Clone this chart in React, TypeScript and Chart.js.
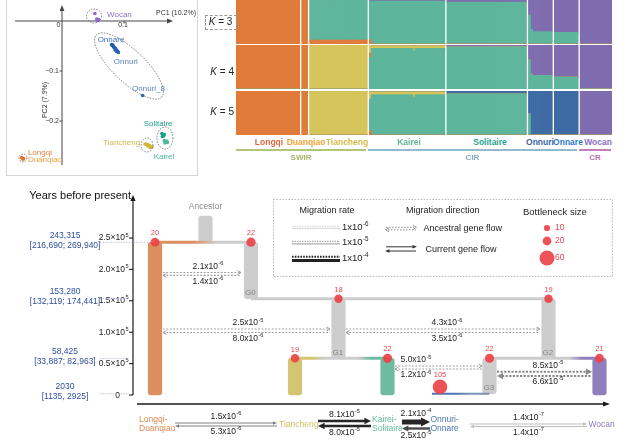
import React, { useEffect, useRef } from "react";
import { Chart, registerables } from "chart.js";

Chart.register(...registerables);

const FONT = "Arial, 'Liberation Sans', Helvetica, sans-serif";
Chart.defaults.font.family = FONT;

// ======================= A. PCA =======================
const pcaWocan = [{ x: 0.053, y: 0.015 }, { x: 0.056, y: 0.004 }, { x: 0.058, y: 0.002 }, { x: 0.057, y: 0.001 }, { x: 0.059, y: 0.003 }];
const pcaOnnare = [{ x: 0.080, y: -0.047 }, { x: 0.081, y: -0.049 }, { x: 0.082, y: -0.048 }, { x: 0.083, y: -0.051 }];
const pcaOnnuri = [{ x: 0.084, y: -0.053 }, { x: 0.085, y: -0.055 }, { x: 0.086, y: -0.054 }, { x: 0.087, y: -0.057 }, { x: 0.088, y: -0.058 }, { x: 0.089, y: -0.060 }, { x: 0.090, y: -0.061 }, { x: 0.091, y: -0.063 }, { x: 0.088, y: -0.061 }, { x: 0.086, y: -0.058 }];
const pcaOnnuri8 = [{ x: 0.130, y: -0.149 }];
const pcaSolitaire = [{ x: 0.161, y: -0.225 }, { x: 0.163, y: -0.228 }, { x: 0.162, y: -0.231 }, { x: 0.165, y: -0.227 }, { x: 0.164, y: -0.230 }];
const pcaKairei = [{ x: 0.165, y: -0.239 }, { x: 0.167, y: -0.242 }, { x: 0.169, y: -0.240 }, { x: 0.170, y: -0.243 }, { x: 0.166, y: -0.244 }];
const pcaTiancheng = [{ x: 0.134, y: -0.246 }, { x: 0.137, y: -0.248 }, { x: 0.139, y: -0.250 }, { x: 0.141, y: -0.249 }, { x: 0.143, y: -0.251 }, { x: 0.145, y: -0.252 }, { x: 0.138, y: -0.247 }, { x: 0.142, y: -0.253 }];
const pcaLongqi = [{ x: -0.065, y: -0.273 }, { x: -0.062, y: -0.275 }];
const pcaDuanqiao = [{ x: -0.063, y: -0.277 }];

const pcaGroupPoints = [pcaWocan, pcaOnnare, pcaOnnuri, pcaOnnuri8, pcaSolitaire, pcaKairei, pcaTiancheng, pcaLongqi, pcaDuanqiao];
const pcaGroupColors = ["#8d68c9", "#1f5aa6", "#2a64b0", "#2a64b0", "#16a08b", "#4fb5a0", "#d3b43a", "#e26f2c", "#f09a35"];

const pcaXTicks = [0, 0.1];
const pcaYTicks = [-0.1, -0.2];

// label text / anchor (data coords) for each PCA group label
const pcaLabelText = ["Wocan", "Onnare", "Onnuri", "Onnuri_8", "Solitaire", "Tiancheng", "Kairei", "Longqi", "Duanqiao"];
const pcaLabelX = [0.0726, 0.079, 0.103, 0.113, 0.155, 0.126, 0.148, -0.055, -0.055];
const pcaLabelY = [0.012, -0.038, -0.082, -0.136, -0.206, -0.244, -0.272, -0.264, -0.277];
const pcaLabelAlign = ["left", "center", "center", "left", "center", "right", "left", "left", "left"];
const pcaLabelColor = ["#8b6fc8", "#3c6fb8", "#5a7fc0", "#5a7fc0", "#1e9f8c", "#cdb84a", "#4fb49e", "#e0823e", "#f0a040"];

// cluster outlines: centre (data), radii px, rotation
const pcaRingX = [0.0516, 0.108, 0.166, 0.137, -0.063];
const pcaRingY = [0.010, -0.090, -0.234, -0.248, -0.274];
const pcaRingRx = [7.5, 45, 8, 6, 4];
const pcaRingRy = [7, 16, 11, 7, 4];
const pcaRingRot = [0, 0.76, 0, 0, 0];

function tri(ctx: any, x: number, y: number, dir: string, len: number, half: number) {
  ctx.beginPath();
  if (dir === "right") { ctx.moveTo(x, y); ctx.lineTo(x - len, y - half); ctx.lineTo(x - len, y + half); }
  else if (dir === "left") { ctx.moveTo(x, y); ctx.lineTo(x + len, y - half); ctx.lineTo(x + len, y + half); }
  else { ctx.moveTo(x, y); ctx.lineTo(x - half, y + len); ctx.lineTo(x + half, y + len); }
  ctx.closePath();
  ctx.fill();
}
function chevron(ctx: any, x: number, y: number, dir: string, len: number, half: number) {
  const d = dir === "right" ? 1 : -1;
  ctx.beginPath();
  ctx.moveTo(x - d * len, y - half);
  ctx.lineTo(x, y);
  ctx.lineTo(x - d * len, y + half);
  ctx.stroke();
}
function txt(ctx: any, s: string, x: number, y: number, size: number, color: string, align = "center", weight = "normal") {
  ctx.font = `${weight} ${size}px ${FONT}`;
  ctx.fillStyle = color;
  ctx.textAlign = align;
  ctx.textBaseline = "middle";
  ctx.fillText(s, x, y);
}
function drawSci(ctx: any, mant: string, exp: string, x: number, y: number, size: number, align: string, color: string) {
  ctx.font = `${size}px ${FONT}`;
  const w1 = ctx.measureText(mant).width;
  const es = size * 0.66;
  ctx.font = `${es}px ${FONT}`;
  const w2 = ctx.measureText(exp).width;
  const total = w1 + w2 + 0.4;
  const left = align === "center" ? x - total / 2 : align === "right" ? x - total : x;
  ctx.fillStyle = color;
  ctx.textAlign = "left";
  ctx.textBaseline = "middle";
  ctx.font = `${size}px ${FONT}`;
  ctx.fillText(mant, left, y);
  ctx.font = `${es}px ${FONT}`;
  ctx.fillText(exp, left + w1 + 0.4, y - size * 0.36);
}
function rateParts(r: number): [string, string] {
  const [m, e] = r.toExponential(1).split("e");
  return [m + "x10", e.replace("+", "")];
}

const pcaDecor = {
  id: "pcaDecor",
  beforeDatasetsDraw(chart: any) {
    const { ctx, chartArea: a } = chart;
    const xs = chart.scales.x, ys = chart.scales.y;
    const ox = xs.getPixelForValue(0), oy = ys.getPixelForValue(0);
    ctx.save();
    ctx.strokeStyle = "#444"; ctx.fillStyle = "#444"; ctx.lineWidth = 1;
    ctx.beginPath(); ctx.moveTo(a.left, oy); ctx.lineTo(a.right - 4, oy); ctx.stroke();
    tri(ctx, a.right, oy, "right", 6, 2.4);
    ctx.beginPath(); ctx.moveTo(ox, a.bottom); ctx.lineTo(ox, a.top + 4); ctx.stroke();
    ctx.fillStyle = "#444";
    tri(ctx, ox, a.top, "up", 6, 2.4);
    pcaXTicks.forEach((v) => {
      const px = xs.getPixelForValue(v);
      if (v !== 0) { ctx.beginPath(); ctx.moveTo(px, oy); ctx.lineTo(px, oy + 2.5); ctx.stroke(); }
      txt(ctx, String(v), v === 0 ? px - 3.5 : px - 1, oy + 4.5, 7, "#333");
    });
    pcaYTicks.forEach((v) => {
      const py = ys.getPixelForValue(v);
      ctx.beginPath(); ctx.moveTo(ox - 2.5, py); ctx.lineTo(ox, py); ctx.stroke();
      txt(ctx, "\u2212" + String(Math.abs(v)), ox - 3, py, 7, "#333", "right");
    });
    txt(ctx, "PC1 (10.2%)", 176, 13, 7, "#333");
    ctx.save();
    ctx.translate(45, 100);
    ctx.rotate(-Math.PI / 2);
    txt(ctx, "PC2 (7.9%)", 0, 0, 7, "#333");
    ctx.restore();
    ctx.restore();
  },
  afterDatasetsDraw(chart: any) {
    const { ctx } = chart;
    const xs = chart.scales.x, ys = chart.scales.y;
    ctx.save();
    ctx.strokeStyle = "#6a6a6a"; ctx.lineWidth = 0.9; ctx.setLineDash([1.4, 1.4]);
    pcaRingX.forEach((cx, i) => {
      ctx.beginPath();
      ctx.ellipse(xs.getPixelForValue(cx), ys.getPixelForValue(pcaRingY[i]), pcaRingRx[i], pcaRingRy[i], pcaRingRot[i], 0, Math.PI * 2);
      ctx.stroke();
    });
    ctx.setLineDash([]);
    pcaLabelText.forEach((s, i) => {
      txt(ctx, s, xs.getPixelForValue(pcaLabelX[i]), ys.getPixelForValue(pcaLabelY[i]), 8, pcaLabelColor[i], pcaLabelAlign[i]);
    });
    ctx.restore();
  },
};

function pcaConfig(): any {
  return {
    type: "scatter",
    data: {
      datasets: pcaGroupPoints.map((pts, i) => ({
        data: pts, backgroundColor: pcaGroupColors[i], borderWidth: 0, pointRadius: 1.8,
      })),
    },
    options: {
      responsive: false, animation: false, events: [],
      layout: { padding: { left: 15, right: 27, top: 5, bottom: 13 } },
      plugins: { legend: { display: false }, tooltip: { enabled: false } },
      scales: {
        x: { type: "linear", display: false, min: -0.0758, max: 0.179 },
        y: { type: "linear", display: false, min: -0.288, max: 0.032 },
      },
    },
    plugins: [pcaDecor],
  };
}

// ======================= B. ADMIXTURE =======================
const admixPopulations = ["Longqi", "Duanqiao", "Tiancheng", "Kairei", "Solitaire", "Onnuri", "Onnare", "Wocan"];
const admixSampleCounts = [32, 3, 29, 38, 40, 12, 12, 16];

// K = 3 (stack bottom -> top: orange, teal, purple)
const k3Orange = [1, 1, 0.09, 0, 0, 0, 0, 0];
const k3Teal = [0, 0, 0.91, 0.975, 0.95, 0.28, 0.265, 0];
const k3Purple = [0, 0, 0, 0.025, 0.05, 0.72, 0.735, 1];
const k3Outliers: any[] = [[3, 0, [0.1, 0.875, 0.025]], [5, 0, [0, 0.66, 0.34]], [5, 1, [0, 0.33, 0.67]]];

// K = 4 (teal, orange, yellow, purple)
const k4Teal = [0, 0, 0, 0.925, 0.96, 0.31, 0.27, 0];
const k4Orange = [1, 1, 0, 0, 0, 0, 0, 0];
const k4Yellow = [0, 0, 1, 0.06, 0.005, 0, 0, 0];
const k4Purple = [0, 0, 0, 0.015, 0.035, 0.69, 0.73, 1];
const k4Outliers: any[] = [[3, 0, [0.72, 0.1, 0.17, 0.01]], [3, 22, [0.86, 0, 0.12, 0.02]], [5, 0, [0.67, 0, 0, 0.33]], [5, 1, [0.34, 0, 0, 0.66]]];

// K = 5 (orange, teal, yellow, blue, purple)
const k5Orange = [1, 1, 0, 0, 0, 0, 0, 0];
const k5Teal = [0, 0, 0, 0.915, 0.93, 0, 0, 0];
const k5Yellow = [0, 0, 1, 0.07, 0.005, 0, 0, 0];
const k5Blue = [0, 0, 0, 0, 0.065, 1, 1, 0];
const k5Purple = [0, 0, 0, 0.015, 0, 0, 0, 1];
const k5Outliers: any[] = [[3, 0, [0.1, 0.72, 0.17, 0, 0.01]], [3, 22, [0, 0.86, 0.12, 0, 0.02]], [5, 0, [0, 0.48, 0, 0.52, 0]]];

const C_ORANGE = "#e07b3a", C_TEAL = "#5db59b", C_PURPLE = "#7f6caf", C_YELLOW = "#d4c45a", C_BLUE = "#3e6ba4";

function buildColumns(components: number[][], outliers: any[]) {
  const series = components.map(() => [] as (number | null)[]);
  admixSampleCounts.forEach((n, p) => {
    if (p > 0) series.forEach((s) => s.push(null));
    for (let i = 0; i < n; i++) {
      const o = outliers.find((q) => q[0] === p && q[1] === i);
      components.forEach((c, k) => series[k].push(o ? o[2][k] : c[p]));
    }
  });
  return series;
}

function admixConfig(components: number[][], colors: string[], outliers: any[]): any {
  const series = buildColumns(components, outliers);
  return {
    type: "bar",
    data: {
      labels: series[0].map((_, i) => String(i)),
      datasets: series.map((d, k) => ({
        data: d, backgroundColor: colors[k], borderWidth: 0, barPercentage: 1, categoryPercentage: 1,
      })),
    },
    options: {
      responsive: false, animation: false, events: [],
      layout: { padding: 0 },
      plugins: { legend: { display: false }, tooltip: { enabled: false } },
      scales: {
        x: { stacked: true, display: false },
        y: { stacked: true, display: false, min: 0, max: 1 },
      },
    },
  };
}

const admixLabelX = [269, 306, 347, 409, 490, 540, 568, 598];
const admixLabelColors = ["#e0693a", "#f0a22e", "#d2bd46", "#5db59b", "#1fa593", "#3b63a6", "#2e78c6", "#8a6fc0"];
const regionNames = ["SWIR", "CIR", "CR"];
const regionFrom = [236, 368, 579];
const regionTo = [366, 577, 611];
const regionColors = ["#b2c776", "#92bbd0", "#c67cbd"];
const regionTextColors = ["#a4b66a", "#86acc2", "#bf69b0"];

// ======================= C. DEMOGRAPHIC MODEL =======================
const yearTicks = [0, 50000, 100000, 150000, 200000, 250000];
const yearTickMantissa = ["0", "0.5\u00d710", "1.0\u00d710", "1.5\u00d710", "2.0\u00d710", "2.5\u00d710"];
const divergenceYears = [243315, 153280, 58425, 2030];
const divergenceLabels = ["243,315", "153,280", "58,425", "2030"];
const divergenceCI = ["[216,690; 269,940]", "[132,119; 174,441]", "[33,887; 82,963]", "[1135, 2925]"];

const lineageBoxes = ["Ancestor", "G0", "G1", "G2", "G3", "Longqi-Duanqiao", "Tiancheng", "Kairei-Solitaire", "Wocan"];
const lineageTop = [285000, 243315, 153280, 153280, 58425, 243315, 58425, 58425, 58425];
const lineageBottom = [243315, 153280, 58425, 58425, 2030, 0, 0, 0, 0];
// horizontal slot of each lineage in the tree layout
const lineageColumn = [72.5, 118, 205.5, 415.5, 356.5, 22, 162, 254.5, 466.5];
const GRAY = "#cdcdcd";
const lineageColors = [GRAY, GRAY, GRAY, GRAY, GRAY, "#dc8f5e", "#d2c672", "#6fbba1", "#8f7fba"];

const bottleneckSizes = [20, 22, 18, 19, 19, 22, 22, 21, 105];
const bottleneckYears = [243315, 243315, 153280, 153280, 58425, 58425, 58425, 58425, 13000];
const bottleneckColumn = [22, 118, 205.5, 415.5, 162, 254.5, 356.5, 466.5, 307];
const bottleneckLegend = [10, 20, 60];

const joinYears = [243315, 153280, 58425, 58425, 58425, 58425, 2030];
const joinFrom = [22, 118, 162, 205.5, 356.5, 415.5, 299];
const joinTo = [118, 415.5, 205.5, 254.5, 415.5, 466.5, 356.5];
const joinColorFrom = ["#dc8f5e", GRAY, "#d2c672", GRAY, GRAY, GRAY, "#4a74b4"];
const joinColorTo = [GRAY, GRAY, GRAY, "#6fbba1", GRAY, "#8f7fba", "#7d93b8"];

// ancestral gene flow (upper line flows right, lower line flows left)
const ancestralRateTop = [2.1e-6, 2.5e-5, 4.3e-6, 5.0e-5, 8.5e-5];
const ancestralRateBottom = [1.4e-6, 8.0e-6, 3.5e-6, 1.2e-6, 6.6e-5];
const ancestralYearTop = [195000, 105100, 105100, 46200, 37100];
const ancestralYearBottom = [190500, 99500, 99500, 41400, 30300];
const ancestralLeft = [30, 30, 213, 262, 364];
const ancestralRight = [108, 197, 407, 349, 459];
const ancestralLabelColumn = [75, 115, 314, 283, 415];

// current gene flow (forward = rightward)
const currentNames = [["Longqi-", "Duanqiao"], ["Tiancheng"], ["Kairei-", "Solitaire"], ["Onnuri-", "Onnare"], ["Wocan"]];
const currentNameColors = ["#e08a50", "#cfc05a", "#5fb89c", "#4c78b8", "#8e7cc0"];
const currentNameColumn = [6, 146, 239, 297.5, 455.5];
const currentRateForward = [1.5e-6, 8.1e-5, 2.1e-4, 1.4e-7];
const currentRateBackward = [5.3e-6, 8.0e-5, 2.5e-5, 1.4e-7];
const currentFrom = [42, 185, 269, 337];
const currentTo = [144, 238, 297, 454];

function dashWidth(r: number) { return r >= 6e-5 ? 2 : 1.1; }
function dashColor(r: number) { return r >= 6e-5 ? "#8a8a8a" : "#9c9c9c"; }
function flowWidth(r: number) { return r >= 1e-4 ? 5 : r >= 5e-5 ? 2.6 : r >= 1e-5 ? 2.4 : 1; }
function flowColor(r: number) { return r >= 5e-5 ? "#262626" : r >= 1e-5 ? "#4a4a4a" : r >= 1e-6 ? "#808080" : "#bdbdbd"; }
function bottleneckRadius(s: number) { return Math.min(7.3, 0.98 * Math.sqrt(s)); }

function hGradient(from: string, to: string, c0: number, c1: number) {
  return (c: any) => {
    const chart = c.chart;
    if (!chart.chartArea) return from;
    const xs = chart.scales.x;
    const g = chart.ctx.createLinearGradient(xs.getPixelForValue(c0), 0, xs.getPixelForValue(c1), 0);
    g.addColorStop(0, from); g.addColorStop(0.4, from); g.addColorStop(0.65, to); g.addColorStop(1, to);
    return g;
  };
}

const TOP = 180; // canvas offset in the page

const treeDecor = {
  id: "treeDecor",
  afterDatasetsDraw(chart: any) {
    const { ctx, chartArea: a } = chart;
    const xs = chart.scales.x, ys = chart.scales.y;
    const X = (c: number) => xs.getPixelForValue(c);
    const Y = (v: number) => ys.getPixelForValue(v);
    const P = (py: number) => py - TOP;
    ctx.save();

    // ---- y axis
    const ax = X(0);
    ctx.strokeStyle = "#1a1a1a"; ctx.fillStyle = "#1a1a1a"; ctx.lineWidth = 1.2;
    ctx.beginPath(); ctx.moveTo(ax, Y(0)); ctx.lineTo(ax, a.top + 5); ctx.stroke();
    tri(ctx, ax, a.top, "up", 6, 2.6);
    yearTicks.forEach((v, i) => {
      const py = Y(v);
      ctx.strokeStyle = "#1a1a1a"; ctx.lineWidth = 1.1;
      ctx.beginPath(); ctx.moveTo(ax - 4, py); ctx.lineTo(ax, py); ctx.stroke();
      if (v === 0) txt(ctx, "0", ax - 13, py + 1, 8.5, "#222", "right");
      else drawSci(ctx, yearTickMantissa[i], "5", ax - 4.5, py, 8.5, "right", "#222");
    });
    txt(ctx, "Years before present", ax - 2, a.top + 1, 11, "#111", "right");

    // ---- horizontal axis
    ctx.strokeStyle = "#1a1a1a"; ctx.fillStyle = "#1a1a1a"; ctx.lineWidth = 1.4;
    ctx.beginPath(); ctx.moveTo(ax + 4, a.bottom); ctx.lineTo(a.right - 3, a.bottom); ctx.stroke();
    tri(ctx, a.right + 2, a.bottom, "right", 7, 2.6);

    // ---- divergence time annotations
    divergenceYears.forEach((v, i) => {
      const py = Y(v);
      ctx.strokeStyle = "#a9b2de"; ctx.lineWidth = 0.9; ctx.setLineDash([1.3, 1.3]);
      ctx.beginPath(); ctx.moveTo(100, py); ctx.lineTo(i === 0 ? X(15) : ax - 4, py); ctx.stroke();
      ctx.setLineDash([]);
      txt(ctx, divergenceLabels[i], 65, py - 7, 8.5, "#2f4e9f");
      txt(ctx, divergenceCI[i], 65, py + 3, 8.5, "#2f4e9f");
    });

    // ---- lineage names
    txt(ctx, "Ancestor", X(lineageColumn[0]), Y(lineageTop[0]) - 9, 8.5, "#8a8a8a");
    [1, 2, 3, 4].forEach((i) => {
      txt(ctx, lineageBoxes[i], X(lineageColumn[i]) - 6, Y(lineageBottom[i]) - 5.5, 8, "#858585", "left");
    });

    // ---- bottleneck sizes
    bottleneckSizes.forEach((s, i) => {
      const r = bottleneckRadius(s);
      txt(ctx, String(s), X(bottleneckColumn[i]), Y(bottleneckYears[i]) - r - 4.5, 7.5, "#e8474e");
    });

    // ---- ancestral gene flow heads and rates
    ancestralRateTop.forEach((rt, i) => {
      const rb = ancestralRateBottom[i];
      const yt = Y(ancestralYearTop[i]), yb = Y(ancestralYearBottom[i]);
      [[rt, X(ancestralRight[i]), yt, "right"], [rb, X(ancestralLeft[i]), yb, "left"]].forEach(([r, x, y, d]: any) => {
        ctx.strokeStyle = dashColor(r); ctx.fillStyle = dashColor(r); ctx.lineWidth = 1;
        if (r >= 6e-5) tri(ctx, x, y, d, 6, 3.2);
        else chevron(ctx, x, y, d, 3.5, 2);
      });
      const lc = X(ancestralLabelColumn[i]);
      const [m1, e1] = rateParts(rt);
      const [m2, e2] = rateParts(rb);
      drawSci(ctx, m1, e1, lc, yt - 6, 8.5, "center", "#222");
      drawSci(ctx, m2, e2, lc, yb + 6, 8.5, "center", "#222");
    });

    // ---- current gene flow row
    currentNames.forEach((lines, i) => {
      const x = X(currentNameColumn[i]);
      if (lines.length === 2) {
        txt(ctx, lines[0], x, P(419.5), 8.5, currentNameColors[i], "left");
        txt(ctx, lines[1], x, P(429), 8.5, currentNameColors[i], "left");
      } else txt(ctx, lines[0], x, P(424.5), 8.5, currentNameColors[i], "left");
    });
    const rowTop = [P(423), P(421), P(422), P(424)];
    const rowBot = [P(426), P(426), P(428.5), P(426.5)];
    currentRateForward.forEach((rf, i) => {
      const rb = currentRateBackward[i];
      const x0 = X(currentFrom[i]), x1 = X(currentTo[i]);
      [[rf, rowTop[i], "right"], [rb, rowBot[i], "left"]].forEach(([r, y, d]: any) => {
        const w = flowWidth(r);
        ctx.strokeStyle = flowColor(r); ctx.fillStyle = flowColor(r); ctx.lineWidth = w;
        const hl = w >= 2 ? 4 + w : 4;
        ctx.beginPath();
        if (d === "right") { ctx.moveTo(x0, y); ctx.lineTo(x1 - hl + 1, y); }
        else { ctx.moveTo(x0 + hl - 1, y); ctx.lineTo(x1, y); }
        ctx.stroke();
        tri(ctx, d === "right" ? x1 : x0, y, d, hl, w >= 2 ? 1.6 + w * 0.6 : 1.7);
      });
      const lc = (x0 + x1) / 2;
      const [m1, e1] = rateParts(rf);
      const [m2, e2] = rateParts(rb);
      drawSci(ctx, m1, e1, lc, rowTop[i] - 5.5 - flowWidth(rf) / 2, 8.5, "center", "#222");
      drawSci(ctx, m2, e2, lc, rowBot[i] + 5.5 + flowWidth(rb) / 2, 8.5, "center", "#222");
    });

    // ---- legend
    ctx.strokeStyle = "#aaa"; ctx.lineWidth = 0.9; ctx.setLineDash([1.4, 1.6]);
    ctx.strokeRect(273.5, P(199.5), 339, 77);
    ctx.setLineDash([]);
    txt(ctx, "Migration rate", 299.5, P(210.5), 9, "#222", "left");
    txt(ctx, "Migration direction", 406, P(210.5), 9, "#222", "left");
    txt(ctx, "Bottleneck size", 523, P(212), 9.5, "#222", "left");
    const legRates = [1e-6, 1e-5, 1e-4];
    const legY = [227.3, 242.6, 258.7];
    legRates.forEach((r, i) => {
      const y = P(legY[i]);
      if (i === 0) {
        ctx.strokeStyle = "#cfcfcf"; ctx.lineWidth = 0.9;
        ctx.setLineDash([1.5, 1]); ctx.beginPath(); ctx.moveTo(292, y - 1); ctx.lineTo(340, y - 1); ctx.stroke();
        ctx.setLineDash([]); ctx.beginPath(); ctx.moveTo(292, y + 1); ctx.lineTo(340, y + 1); ctx.stroke();
      } else if (i === 1) {
        ctx.strokeStyle = "#acacac"; ctx.lineWidth = 1.3;
        ctx.setLineDash([1.5, 1]); ctx.beginPath(); ctx.moveTo(292, y - 1.3); ctx.lineTo(340, y - 1.3); ctx.stroke();
        ctx.setLineDash([]); ctx.beginPath(); ctx.moveTo(292, y + 1.2); ctx.lineTo(340, y + 1.2); ctx.stroke();
      } else {
        ctx.strokeStyle = "#222"; ctx.lineWidth = 2;
        ctx.setLineDash([1.6, 1.2]); ctx.beginPath(); ctx.moveTo(292, y - 2); ctx.lineTo(340, y - 2); ctx.stroke();
        ctx.setLineDash([]); ctx.lineWidth = 3; ctx.beginPath(); ctx.moveTo(292, y + 1.8); ctx.lineTo(340, y + 1.8); ctx.stroke();
      }
      const [, e] = rateParts(r);
      drawSci(ctx, "1x10", e, 342, y, 9.5, "left", "#222");
    });
    // direction samples
    ctx.strokeStyle = "#999"; ctx.fillStyle = "#999"; ctx.lineWidth = 1; ctx.setLineDash([1.6, 1.4]);
    ctx.beginPath(); ctx.moveTo(386, P(227.3)); ctx.lineTo(414, P(227.3)); ctx.stroke();
    ctx.beginPath(); ctx.moveTo(388, P(229.8)); ctx.lineTo(416, P(229.8)); ctx.stroke();
    ctx.setLineDash([]);
    chevron(ctx, 416.5, P(227.3), "right", 3.5, 2);
    chevron(ctx, 385.5, P(229.8), "left", 3.5, 2);
    ctx.strokeStyle = "#333"; ctx.fillStyle = "#333"; ctx.lineWidth = 1;
    ctx.beginPath(); ctx.moveTo(386, P(246.8)); ctx.lineTo(413, P(246.8)); ctx.stroke();
    ctx.beginPath(); ctx.moveTo(389, P(251)); ctx.lineTo(416, P(251)); ctx.stroke();
    tri(ctx, 417, P(246.8), "right", 4.5, 1.8);
    tri(ctx, 385, P(251), "left", 4.5, 1.8);
    txt(ctx, "Ancestral gene flow", 423.5, P(228.3), 9, "#222", "left");
    txt(ctx, "Current gene flow", 425.5, P(249.3), 9, "#222", "left");
    // bottleneck samples
    const bY = [228, 241, 258];
    bottleneckLegend.forEach((s, i) => {
      ctx.fillStyle = "rgba(234,67,72,0.92)";
      ctx.beginPath(); ctx.arc(547, P(bY[i]), bottleneckRadius(s) + (i === 2 ? 0.2 : 0), 0, Math.PI * 2); ctx.fill();
      txt(ctx, String(s), 555, P(bY[i]) - 0.5, 8.5, "#e8474e", "left");
    });
    ctx.restore();
  },
};

function treeConfig(): any {
  const datasets: any[] = [];
  datasets.push({
    type: "scatter", order: 0,
    data: bottleneckColumn.map((x, i) => ({ x, y: bottleneckYears[i] })),
    pointRadius: bottleneckSizes.map(bottleneckRadius),
    backgroundColor: "rgba(234,67,72,0.92)", borderWidth: 0,
  });
  ancestralRateTop.forEach((rt, i) => {
    const rb = ancestralRateBottom[i];
    const hl = (r: number) => (r >= 6e-5 ? 5 : 0);
    datasets.push({
      type: "line", order: 1, pointRadius: 0, borderDash: rt >= 6e-5 ? [2.2, 1.4] : [1.8, 1.6],
      borderColor: dashColor(rt), borderWidth: dashWidth(rt),
      data: [{ x: ancestralLeft[i], y: ancestralYearTop[i] }, { x: ancestralRight[i] - hl(rt), y: ancestralYearTop[i] }],
    });
    datasets.push({
      type: "line", order: 1, pointRadius: 0, borderDash: rb >= 6e-5 ? [2.2, 1.4] : [1.8, 1.6],
      borderColor: dashColor(rb), borderWidth: dashWidth(rb),
      data: [{ x: ancestralLeft[i] + hl(rb), y: ancestralYearBottom[i] }, { x: ancestralRight[i], y: ancestralYearBottom[i] }],
    });
  });
  joinYears.forEach((v, i) => {
    datasets.push({
      type: "line", order: 2, pointRadius: 0, borderWidth: i === 6 ? 1.8 : 3,
      borderColor: hGradient(joinColorFrom[i], joinColorTo[i], joinFrom[i], joinTo[i]),
      data: [{ x: joinFrom[i], y: v }, { x: joinTo[i], y: v }],
    });
  });
  datasets.push({
    type: "bar", order: 3,
    data: lineageColumn.map((x, i) => ({ x, y: [lineageBottom[i], lineageTop[i]] })),
    backgroundColor: lineageColors, barThickness: 13.5, borderRadius: 3, borderSkipped: false, borderWidth: 0,
  });
  return {
    type: "bar",
    data: { datasets },
    options: {
      responsive: false, animation: false, events: [],
      layout: { padding: { left: 133, right: 30, top: 15, bottom: 42 } },
      plugins: { legend: { display: false }, tooltip: { enabled: false } },
      scales: {
        x: { type: "linear", display: false, min: 0, max: 475, offset: false },
        y: { type: "linear", display: false, min: -14300, max: 318500 },
      },
    },
    plugins: [treeDecor],
  };
}

// ======================= components =======================
function ChartCanvas({ left, top, width, height, make }: any) {
  const ref = useRef<HTMLCanvasElement>(null);
  useEffect(() => {
    const chart = new Chart(ref.current as HTMLCanvasElement, make());
    return () => chart.destroy();
  }, []);
  return (
    <div style={{ position: "absolute", left, top, width, height }}>
      <canvas ref={ref} width={width} height={height} style={{ width, height, display: "block" }} />
    </div>
  );
}

function Label({ x, y, children, color = "#222", size = 9, weight = 400, align = "center" }: any) {
  const tx = align === "center" ? "-50%" : align === "right" ? "-100%" : "0";
  return (
    <div style={{
      position: "absolute", left: x, top: y, transform: `translate(${tx}, -50%)`, color, fontSize: size,
      fontWeight: weight, fontFamily: FONT, lineHeight: 1, whiteSpace: "nowrap",
    }}>{children}</div>
  );
}

export default function App() {
  return (
    <div style={{ position: "absolute", left: 0, top: 0, width: 638, height: 446, background: "#fff", overflow: "hidden", fontFamily: FONT }}>
      <div style={{ position: "absolute", left: 6, top: -1, width: 190, height: 175, border: "1px solid #d6d6d6" }} />
      <ChartCanvas left={0} top={0} width={200} height={178} make={pcaConfig} />

      <ChartCanvas left={236} top={0} width={376} height={44}
        make={() => admixConfig([k3Orange, k3Teal, k3Purple], [C_ORANGE, C_TEAL, C_PURPLE], k3Outliers)} />
      <ChartCanvas left={236} top={45} width={376} height={44}
        make={() => admixConfig([k4Teal, k4Orange, k4Yellow, k4Purple], [C_TEAL, C_ORANGE, C_YELLOW, C_PURPLE], k4Outliers)} />
      <ChartCanvas left={236} top={91} width={376} height={44}
        make={() => admixConfig([k5Orange, k5Teal, k5Yellow, k5Blue, k5Purple], [C_ORANGE, C_TEAL, C_YELLOW, C_BLUE, C_PURPLE], k5Outliers)} />

      <div style={{ position: "absolute", left: 205, top: 14.5, width: 30, height: 13, border: "1px dashed #999" }} />
      <Label x={220.5} y={21.5} size={10}><i>K</i> = 3</Label>
      <Label x={234} y={72} size={10} align="right"><i>K</i> = 4</Label>
      <Label x={234} y={112} size={10} align="right"><i>K</i> = 5</Label>

      {admixPopulations.map((p, i) => (
        <Label key={p} x={admixLabelX[i]} y={142} size={8.5} weight={700} color={admixLabelColors[i]}>{p}</Label>
      ))}
      {regionNames.map((r, i) => (
        <React.Fragment key={r}>
          <div style={{ position: "absolute", left: regionFrom[i], top: 149, width: regionTo[i] - regionFrom[i], height: 1.6, background: regionColors[i] }} />
          <Label x={(regionFrom[i] + regionTo[i]) / 2 + (i === 0 ? -0 : 0)} y={157.5} size={8} weight={700} color={regionTextColors[i]}>{r}</Label>
        </React.Fragment>
      ))}

      <ChartCanvas left={0} top={TOP} width={638} height={266} make={treeConfig} />
    </div>
  );
}
